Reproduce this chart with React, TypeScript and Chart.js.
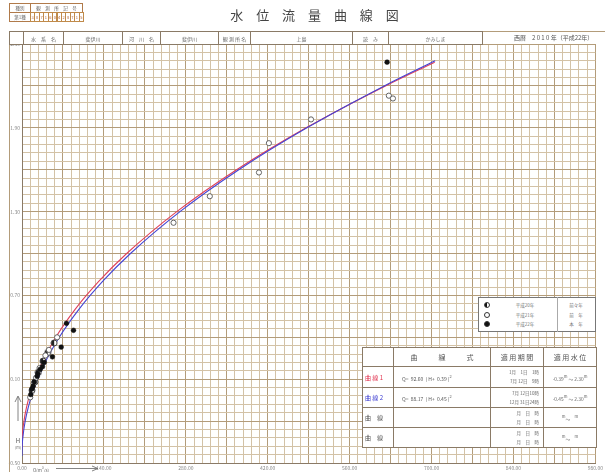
import React, { useEffect, useRef } from 'react';
import { Chart, registerables } from 'chart.js';
Chart.register(...registerables);

// ---- axes ----
const Q_MIN = 0;
const Q_MAX = 980;
const Q_STEP = 14; // minor grid step, labels every 10 steps (140)
const H_MIN = -0.5;
const H_MAX = 2.5;
const H_STEP = 0.06; // minor grid step, labels every 10 steps (0.60)

// ---- rating curves ----
const curve1H = [-0.39, -0.30, -0.20, -0.10, 0.00, 0.20, 0.40, 0.60, 0.80, 1.00, 1.30, 1.60, 1.90, 2.20, 2.37];
const curve1Q = [0, 0.75, 3.34, 7.79, 14.08, 32.23, 57.79, 90.76, 131.13, 178.91, 264.47, 366.71, 485.6, 621.17, 705.39];
const curve2H = [-0.45, -0.40, -0.30, -0.20, -0.10, 0.00, 0.20, 0.40, 0.60, 0.80, 1.00, 1.30, 1.60, 1.90, 2.20, 2.38];
const curve2Q = [0, 0.22, 1.98, 5.51, 10.8, 17.85, 37.25, 63.7, 97.21, 137.77, 185.38, 270.02, 370.53, 486.92, 619.17, 706.14];

// ---- observations ----
const obs22Q = [624, 76, 88, 67, 52, 38, 35, 31, 27, 26, 21, 19, 17, 15];
const obs22H = [2.37, 0.5, 0.45, 0.33, 0.26, 0.22, 0.19, 0.17, 0.14, 0.12, 0.08, 0.05, 0.03, -0.01];
const obs21Q = [627, 634, 494, 422, 405, 321, 259, 60, 46, 40, 30, 24, 20, 14];
const obs21H = [2.13, 2.11, 1.96, 1.79, 1.58, 1.41, 1.22, 0.4, 0.31, 0.27, 0.18, 0.11, 0.07, -0.03];
const obs20Q = [55, 44, 36, 28, 22, 17];
const obs20H = [0.36, 0.29, 0.23, 0.15, 0.08, 0.02];

// ---- texts ----
const TITLE = '水 位 流 量 曲 線 図';
const YEAR_TEXT = '西暦　2 0 1 0 年（平成22年）';
const legendRows = [
  { sym: 'half', label: '平成20年', note: '前々年' },
  { sym: 'open', label: '平成21年', note: '前　年' },
  { sym: 'filled', label: '平成22年', note: '本　年' },
];
const formulaRows = [
  { name: '曲 線 1', color: '#e0304c', formula: ['92.60', '0.39'], period: ['1月　1日　1時', '7月 12日　9時'], level: ['-0.39', '2.30'] },
  { name: '曲 線 2', color: '#3a3ad0', formula: ['88.17', '0.45'], period: ['7月 12日10時', '12月 31日24時'], level: ['-0.45', '2.30'] },
  { name: '曲　線', color: '#555', formula: null, period: ['月　日　時', '月　日　時'], level: null },
  { name: '曲　線', color: '#555', formula: null, period: ['月　日　時', '月　日　時'], level: null },
];

const FONT = '"Noto Sans CJK JP", "Noto Sans", sans-serif';
const GRID_LIGHT = '#d3c2a6';
const GRID_DARK = '#b39c7a';
const LINE = '#8a7a66';

function pairs(xs: number[], ys: number[]) {
  return xs.map((x, i) => ({ x, y: ys[i] }));
}

function makeHalf(): HTMLCanvasElement {
  const c = document.createElement('canvas');
  c.width = 8;
  c.height = 8;
  const g = c.getContext('2d')!;
  g.beginPath();
  g.arc(4, 4, 3, 0, Math.PI * 2);
  g.fillStyle = '#fff';
  g.fill();
  g.beginPath();
  g.moveTo(4, 1);
  g.arc(4, 4, 3, -Math.PI / 2, Math.PI / 2, true);
  g.closePath();
  g.fillStyle = '#222';
  g.fill();
  g.beginPath();
  g.arc(4, 4, 3, 0, Math.PI * 2);
  g.strokeStyle = '#333';
  g.lineWidth = 1;
  g.stroke();
  return c;
}

const abs = (x: number, y: number, w: number, h: number, extra: React.CSSProperties = {}): React.CSSProperties => ({
  position: 'absolute', left: x, top: y, width: w, height: h, boxSizing: 'border-box', ...extra,
});

function Sym({ kind, x, y }: { kind: string; x: number; y: number }) {
  const base: React.CSSProperties = abs(x - 3, y - 3, 6, 6, { borderRadius: '50%', border: '1px solid #333' });
  if (kind === 'filled') return <div style={{ ...base, background: '#111' }} />;
  if (kind === 'open') return <div style={{ ...base, background: '#fff' }} />;
  return <div style={{ ...base, background: 'linear-gradient(to right, #111 50%, #fff 50%)' }} />;
}

export default function App() {
  const ref = useRef<HTMLCanvasElement | null>(null);

  useEffect(() => {
    const canvas = ref.current!;
    const half = makeHalf();
    const gridColor = (ctx: any) => (ctx.index % 5 === 0 ? GRID_DARK : GRID_LIGHT);
    const chart = new Chart(canvas, {
      type: 'scatter',
      data: {
        datasets: [
          { label: '曲線1', data: pairs(curve1Q, curve1H), showLine: true, pointRadius: 0, borderColor: '#e0405a', borderWidth: 1.1, cubicInterpolationMode: 'monotone', order: 3 } as any,
          { label: '曲線2', data: pairs(curve2Q, curve2H), showLine: true, pointRadius: 0, borderColor: '#4444d4', borderWidth: 1.1, cubicInterpolationMode: 'monotone', order: 2 } as any,
          { label: '平成21年', data: pairs(obs21Q, obs21H), pointRadius: 2.6, backgroundColor: '#fff', borderColor: '#555', borderWidth: 0.9, order: 1 },
          { label: '平成20年', data: pairs(obs20Q, obs20H), pointStyle: half as any, pointRadius: 3, order: 1 },
          { label: '平成22年', data: pairs(obs22Q, obs22H), pointRadius: 2.4, backgroundColor: '#111', borderColor: '#111', borderWidth: 0.5, order: 0 },
        ],
      },
      options: {
        animation: false,
        responsive: false,
        events: [],
        layout: { padding: { left: 0, top: 44, right: 2, bottom: 0 }, autoPadding: false } as any,
        plugins: { legend: { display: false }, tooltip: { enabled: false } },
        scales: {
          x: {
            type: 'linear', min: Q_MIN, max: Q_MAX,
            afterFit: (s: any) => { s.height = 9; },
            border: { display: true, color: LINE },
            grid: { color: gridColor, drawTicks: false, lineWidth: 1 },
            ticks: {
              stepSize: Q_STEP, autoSkip: false, maxRotation: 0, padding: 2,
              color: '#888', font: { size: 5, family: FONT },
              callback: (v: any, i: number) => (i % 10 === 0 ? Number(v).toFixed(2) : ''),
            },
          },
          y: {
            type: 'linear', min: H_MIN, max: H_MAX,
            afterFit: (s: any) => { s.width = 22; },
            border: { display: true, color: LINE },
            grid: { color: gridColor, drawTicks: false, lineWidth: 1 },
            ticks: {
              stepSize: H_STEP, autoSkip: false, padding: 2,
              color: '#888', font: { size: 5, family: FONT },
              callback: (v: any, i: number) => (i % 10 === 0 ? Number(v).toFixed(2) : ''),
            },
          },
        },
      },
    });
    return () => chart.destroy();
  }, []);

  const tcell = (x: number, y: number, w: number, h: number, content: React.ReactNode, extra: React.CSSProperties = {}) => (
    <div style={abs(x, y, w, h, {
      border: `1px solid ${LINE}`, display: 'flex', alignItems: 'center', justifyContent: 'center',
      background: '#fff', color: '#666', fontSize: 5.5, whiteSpace: 'nowrap', ...extra,
    })}>{content}</div>
  );

  const headerCells = [
    { x: 9, w: 15, t: '' }, { x: 23, w: 41, t: '水　系　名' }, { x: 63, w: 60, t: '斐伊川' },
    { x: 122, w: 39, t: '河　川　名' }, { x: 160, w: 59, t: '斐伊川' }, { x: 218, w: 33, t: '観 測 所 名' },
    { x: 250, w: 103, t: '上島' }, { x: 352, w: 37, t: '読　み' }, { x: 388, w: 95, t: 'かみしま' },
  ];
  const codeDigits = '307160428715'.split('');

  const colX = [362, 393, 490, 543, 596];
  const rowY = [347, 366, 387, 407, 427, 447];

  return (
    <div style={{ position: 'absolute', left: 0, top: 0, width: 605, height: 472, background: '#fff', overflow: 'hidden', fontFamily: FONT }}>
      <canvas ref={ref} width={605} height={472} style={{ position: 'absolute', left: 0, top: 0, width: 605, height: 472 }} />

      {/* outer frame */}
      <div style={abs(9, 31, 620, 460, { border: `1px solid ${GRID_DARK}`, pointerEvents: 'none' })} />

      {/* title */}
      <div style={abs(190, 5, 254, 20, { textAlign: 'center', fontSize: 13, color: '#444', letterSpacing: 5, lineHeight: '20px' })}>{TITLE}</div>

      {/* top-left table */}
      {tcell(9, 3, 22, 10, '種別', { fontSize: 4.5, borderColor: '#b07a4a' })}
      {tcell(30, 3, 53, 10, '観　測　所　記　号', { fontSize: 4.5, borderColor: '#b07a4a' })}
      {tcell(9, 12, 22, 10, '第1種', { fontSize: 4.5, borderColor: '#b07a4a' })}
      {codeDigits.map((d, i) => (
        <React.Fragment key={i}>{tcell(30 + i * 4.42, 12, 5.4, 10, d, { fontSize: 4, borderColor: '#c08a4a', color: '#b06030' })}</React.Fragment>
      ))}

      {/* header row */}
      {headerCells.map((c, i) => (
        <React.Fragment key={i}>{tcell(c.x, 31, c.w, 14, c.t, { fontSize: 5 })}</React.Fragment>
      ))}
      <div style={abs(514, 33, 120, 10, { fontSize: 6, color: '#555', whiteSpace: 'nowrap' })}>{YEAR_TEXT}</div>

      {/* legend box */}
      <div style={abs(478, 297, 118, 35, { border: '1px solid #777', background: '#fff' })} />
      <div style={abs(557, 297, 1, 35, { background: '#aaa' })} />
      {legendRows.map((r, i) => (
        <React.Fragment key={i}>
          <Sym kind={r.sym} x={487} y={305 + i * 9.5} />
          <div style={abs(500, 301 + i * 9.5, 50, 8, { fontSize: 4.5, color: '#777', lineHeight: '8px', textAlign: 'center' })}>{r.label}</div>
          <div style={abs(558, 301 + i * 9.5, 36, 8, { fontSize: 4.5, color: '#777', lineHeight: '8px', textAlign: 'center' })}>{r.note}</div>
        </React.Fragment>
      ))}

      {/* formula table */}
      {tcell(colX[0], rowY[0], colX[1] - colX[0] + 1, rowY[1] - rowY[0] + 1, '')}
      {tcell(colX[1], rowY[0], colX[2] - colX[1] + 1, rowY[1] - rowY[0] + 1, '曲　　　線　　　式', { fontSize: 7, color: '#555' })}
      {tcell(colX[2], rowY[0], colX[3] - colX[2] + 1, rowY[1] - rowY[0] + 1, '適 用 期 間', { fontSize: 7, color: '#555' })}
      {tcell(colX[3], rowY[0], colX[4] - colX[3] + 1, rowY[1] - rowY[0] + 1, '適 用 水 位', { fontSize: 7, color: '#555' })}
      {formulaRows.map((r, i) => {
        const y = rowY[i + 1];
        const h = rowY[i + 2] - y + 1;
        return (
          <React.Fragment key={i}>
            {tcell(colX[0], y, colX[1] - colX[0] + 1, h, r.name, { fontSize: 6, color: r.color, justifyContent: 'flex-start', paddingLeft: 2 })}
            {tcell(colX[1], y, colX[2] - colX[1] + 1, h, r.formula ? (
              <span style={{ fontSize: 5, color: '#555' }}>Q=&nbsp;&nbsp;{r.formula[0]}&nbsp;&nbsp;(&nbsp;H+&nbsp;&nbsp;{r.formula[1]}&nbsp;)<sup style={{ fontSize: 4 }}>2</sup></span>
            ) : '', { justifyContent: 'flex-start', paddingLeft: 8 })}
            {tcell(colX[2], y, colX[3] - colX[2] + 1, h, (
              <div style={{ display: 'flex', flexDirection: 'column', alignItems: 'flex-end', fontSize: 4.5, lineHeight: '9px', color: '#666', width: '100%', paddingRight: 4, boxSizing: 'border-box' }}>
                <span>{r.period[0]}</span><span>{r.period[1]}</span>
              </div>
            ))}
            {tcell(colX[3], y, colX[4] - colX[3] + 1, h, r.level ? (
              <span style={{ fontSize: 4.8, color: '#666' }}>{r.level[0]}<sup style={{ fontSize: 4 }}>m</sup>&nbsp;～&nbsp;{r.level[1]}<sup style={{ fontSize: 4 }}>m</sup></span>
            ) : (
              <span style={{ fontSize: 4.8, color: '#666' }}><sup style={{ fontSize: 4 }}>m</sup>～&nbsp;&nbsp;&nbsp;&nbsp;<sup style={{ fontSize: 4 }}>m</sup></span>
            ))}
          </React.Fragment>
        );
      })}

      {/* axis titles */}
      <svg style={abs(12, 393, 12, 30)} width={12} height={30}>
        <line x1={6} y1={4} x2={6} y2={28} stroke="#666" strokeWidth={0.8} />
        <polyline points="3,9 6,3 9,9" fill="none" stroke="#666" strokeWidth={0.8} />
      </svg>
      <div style={abs(13, 437, 10, 8, { fontSize: 6, color: '#555', textAlign: 'center', lineHeight: '8px' })}>H</div>
      <div style={abs(12, 445, 12, 6, { fontSize: 3.8, color: '#666', textAlign: 'center', lineHeight: '6px' })}>(m)</div>
      <div style={abs(33, 465, 24, 7, { fontSize: 4.5, color: '#666', lineHeight: '7px', whiteSpace: 'nowrap' })}>Q(m<sup style={{ fontSize: 3 }}>3</sup>/s)</div>
      <svg style={abs(55, 465, 44, 7)} width={44} height={7}>
        <line x1={1} y1={3.5} x2={42} y2={3.5} stroke="#666" strokeWidth={0.8} />
        <polyline points="37,1 43,3.5 37,6" fill="none" stroke="#666" strokeWidth={0.8} />
      </svg>
    </div>
  );
}
